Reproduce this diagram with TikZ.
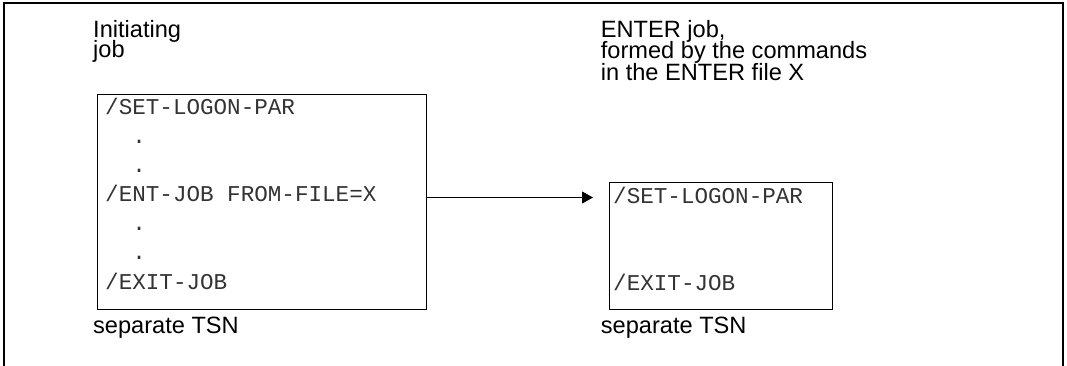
\documentclass[tikz,border=0pt]{standalone}
\usepackage{fontspec}
\setmainfont{Liberation Sans}
\setmonofont{Liberation Mono}
\usetikzlibrary{arrows.meta}
\begin{document}
\begin{tikzpicture}[x=1bp,y=-1bp,
  lbl/.style={anchor=base west, inner sep=0pt, font=\fontsize{23.6bp}{23.6bp}\selectfont},
  cmd/.style={anchor=base west, inner sep=0pt, font=\fontsize{22.6bp}{22.6bp}\selectfont\ttfamily, text=black!80},
  jobbox/.style={draw, line width=0.9bp, anchor=north west, inner sep=0pt},
  frame/.style={line width=1.1bp},
  flow/.style={line width=0.9bp, -{Triangle[length=11bp,width=12bp]}}]
\useasboundingbox (0,0) rectangle (1067,365);
% outer frame, open at the bottom
\draw[frame] (4,367) -- (4,3) -- (1063,3) -- (1063,367);

% headings
\node[lbl] (initA) at (93,37) {Initiating};
\node[lbl] (initB) at (93,57) {job};
\node[lbl] (entA) at (600.7,37) {ENTER job,};
\node[lbl] (entB) at (600.7,58.5) {formed by the commands};
\node[lbl] (entC) at (600.7,80) {in the ENTER file X};

% job boxes
\node[jobbox, minimum width=329bp, minimum height=215bp] (initbox) at (97,94) {};
\node[jobbox, minimum width=223bp, minimum height=127bp] (enterbox) at (608.7,182) {};

% commands of the initiating job
\node[cmd] (c1) at (105,114.5) {/SET-LOGON-PAR};
\node[cmd] (c2) at (105,143.5) {\hphantom{AA}.};
\node[cmd] (c3) at (105,172.5) {\hphantom{AA}.};
\node[cmd] (c4) at (105,201.8) {/ENT-JOB FROM-FILE=X};
\node[cmd] (c5) at (105,230.8) {\hphantom{AA}.};
\node[cmd] (c6) at (105,259.8) {\hphantom{AA}.};
\node[cmd] (c7) at (105,289) {/EXIT-JOB};

% commands of the ENTER job
\node[cmd] (e1) at (613,203) {/SET-LOGON-PAR};
\node[cmd] (e2) at (613,290) {/EXIT-JOB};

% captions
\node[lbl] (tsnA) at (93,333) {separate TSN};
\node[lbl] (tsnB) at (600.7,333) {separate TSN};

% the ENTER command starts the new job
\coordinate (tip) at (593,197.5);
\draw[flow] (initbox.east |- tip) -- (tip);
\end{tikzpicture}
\end{document}
